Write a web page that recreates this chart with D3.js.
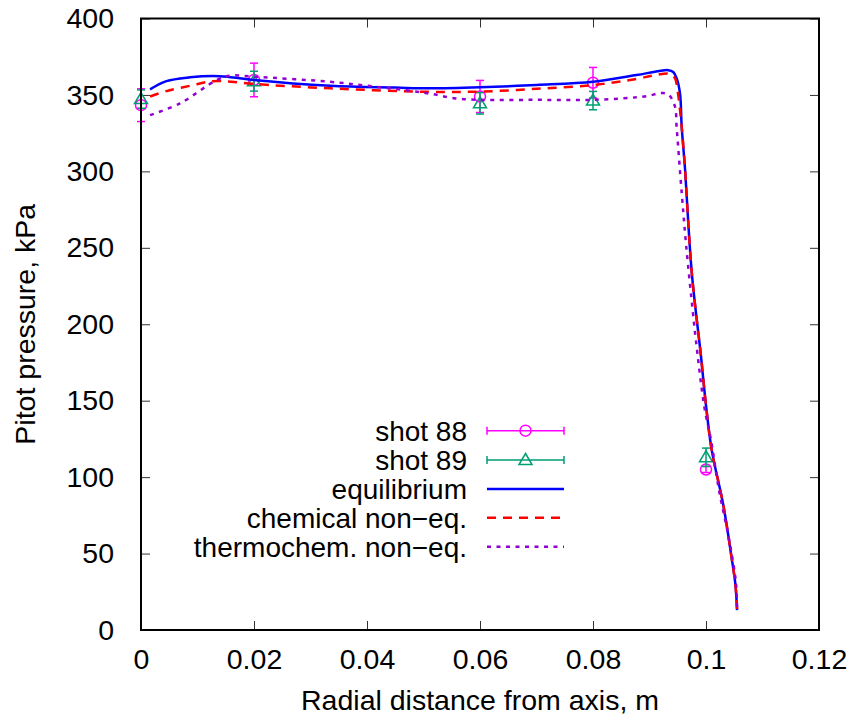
<!DOCTYPE html>
<html>
<head>
<meta charset="utf-8">
<script src="https://cdn.jsdelivr.net/npm/d3@7"></script>
<style>
  body { margin: 0; background: #fff; }
  text { font-family: "Liberation Sans", Arial, sans-serif; }
</style>
</head>
<body>
<div id="chart"></div>
<script>
(function(){
  //sets dimentions
  var W = 856, H = 723;
  var margin = {top: 18.5, left: 141, right: 37, bottom: 93},
  width = W - margin.left - margin.right,
  height = H - margin.top - margin.bottom;

  // measured points (x in m, pressure in kPa, error bar half-height)
  var shot88X = [0, 0.02, 0.06, 0.08, 0.1];
  var shot88Y = [343.3, 359.8, 349, 358, 105];
  var shot88Err = [10.7, 11, 10.5, 10, 2];

  var shot89X = [0, 0.02, 0.06, 0.08, 0.1];
  var shot89Y = [347.3, 359, 344.5, 346.3, 113];
  var shot89Err = [6, 6.5, 7, 6, 6];

  // simulated profiles
  var eqX = [0.0016, 0.0045, 0.0087, 0.0127, 0.0155, 0.02, 0.0335, 0.045, 0.0512, 0.06, 0.07, 0.08, 0.0877, 0.0915, 0.0933, 0.0942, 0.0948, 0.0954, 0.0957, 0.0963, 0.0969, 0.0975, 0.0983, 0.099, 0.1, 0.101, 0.1031, 0.1045, 0.1052, 0.1055];
  var eqY = [353.6, 359, 361.5, 362.4, 361.8, 359.8, 356, 354.8, 354.3, 355, 356.5, 358.6, 363, 365.5, 366.2, 365, 361, 351, 329, 301, 264, 233, 205, 183, 147, 118, 81, 48, 30, 13];

  var chemX = [0.0016, 0.0045, 0.0087, 0.0127, 0.016, 0.02, 0.0335, 0.0512, 0.06, 0.07, 0.08, 0.0877, 0.0907, 0.0936, 0.0945, 0.095, 0.0957, 0.0963, 0.0969, 0.0975, 0.0983, 0.099, 0.1, 0.101, 0.1031, 0.1045, 0.1052, 0.1055];
  var chemY = [349, 352.5, 356, 359, 358.6, 357.2, 354.3, 352, 352.2, 354, 356.5, 360.5, 362.7, 363.8, 361, 352, 329, 301, 264, 233, 205, 183, 147, 118, 81, 48, 30, 13];

  var thermoX = [0.0016, 0.0069, 0.0134, 0.0158, 0.02, 0.0335, 0.04, 0.047, 0.0512, 0.0553, 0.06, 0.07, 0.08, 0.0895, 0.0919, 0.0933, 0.0945, 0.0948, 0.0957, 0.0965, 0.0977, 0.0982, 0.0997, 0.1009, 0.1023, 0.1041, 0.1053, 0.1055];
  var thermoY = [336.8, 344.5, 359.7, 362.6, 361.9, 358.6, 356, 353, 350.8, 347.9, 346.8, 346.8, 346.8, 349.2, 351.2, 350.4, 342.5, 329, 286, 251, 207, 190, 146, 124, 91.5, 59, 31, 12];

  var xTicks = [0, 0.02, 0.04, 0.06, 0.08, 0.1, 0.12];
  var yTicks = [0, 50, 100, 150, 200, 250, 300, 350, 400];

  var labels = ["shot 88", "shot 89", "equilibrium", "chemical non\u2212eq.", "thermochem. non\u2212eq."];
  var colors = {
    shot88: "#ff00ff",
    shot89: "#009e73",
    eq: "#0000ff",
    chem: "#ff0000",
    thermo: "#9400d3"
  };

  var fontSize = 28.5, legFont = 28;

  var svg = d3.select("#chart").append("svg")
    .attr("width", W).attr("height", H);

  var x = d3.scaleLinear().domain([0, 0.12]).range([margin.left, margin.left + width]);
  var y = d3.scaleLinear().domain([0, 400]).range([margin.top + height, margin.top]);

  /////////////////////// AXES ///////////////////////
  var tickLen = 9;
  var fmtX = function(d){ return d === 0 ? "0" : String(+d.toFixed(2)); };

  // bottom + mirrored top ticks (inward)
  svg.append("g")
    .attr("transform", "translate(0," + (margin.top + height) + ")")
    .call(d3.axisBottom(x).tickValues(xTicks).tickFormat(fmtX).tickSizeInner(-tickLen).tickSizeOuter(0).tickPadding(19))
    .call(function(g){
      g.select(".domain").remove();
      g.selectAll("line").attr("stroke", "#333");
      g.selectAll("text").attr("font-size", fontSize).attr("fill", "#000").attr("dy", "0.71em");
    });
  svg.append("g")
    .attr("transform", "translate(0," + margin.top + ")")
    .call(d3.axisTop(x).tickValues(xTicks).tickFormat("").tickSizeInner(-tickLen).tickSizeOuter(0))
    .call(function(g){ g.select(".domain").remove(); g.selectAll("line").attr("stroke", "#333"); });

  // left + mirrored right ticks
  svg.append("g")
    .attr("transform", "translate(" + margin.left + ",0)")
    .call(d3.axisLeft(y).tickValues(yTicks).tickSizeInner(-tickLen).tickSizeOuter(0).tickPadding(27))
    .call(function(g){
      g.select(".domain").remove();
      g.selectAll("line").attr("stroke", "#333");
      g.selectAll("text").attr("font-size", fontSize).attr("fill", "#000");
    });
  svg.append("g")
    .attr("transform", "translate(" + (margin.left + width) + ",0)")
    .call(d3.axisRight(y).tickValues(yTicks).tickFormat("").tickSizeInner(-tickLen).tickSizeOuter(0))
    .call(function(g){ g.select(".domain").remove(); g.selectAll("line").attr("stroke", "#333"); });

  // axis titles
  svg.append("text")
    .attr("x", margin.left + width / 2).attr("y", 710)
    .attr("text-anchor", "middle").attr("font-size", fontSize)
    .text("Radial distance from axis, m");
  svg.append("text")
    .attr("transform", "translate(35," + (margin.top + height / 2) + ") rotate(-90)")
    .attr("text-anchor", "middle").attr("font-size", fontSize)
    .text("Pitot pressure, kPa");

  /////////////////////// DATA ///////////////////////
  var cap = 4;
  function errorSeries(xs, ys, es, col, shape){
    var g = svg.append("g").attr("stroke", col).attr("stroke-width", 1.5).attr("fill", "none");
    for (var i = 0; i < xs.length; i++) {
      var px = x(xs[i]), top = y(ys[i] + es[i]), bot = y(ys[i] - es[i]);
      g.append("line").attr("x1", px).attr("x2", px).attr("y1", top).attr("y2", bot);
      g.append("line").attr("x1", px - cap).attr("x2", px + cap).attr("y1", top).attr("y2", top);
      g.append("line").attr("x1", px - cap).attr("x2", px + cap).attr("y1", bot).attr("y2", bot);
      drawMarker(g, px, y(ys[i]), shape);
    }
  }
  function drawMarker(g, px, py, shape){
    if (shape == "circle") {
      g.append("circle").attr("cx", px).attr("cy", py).attr("r", 5.5);
    } else {
      g.append("path").attr("d", "M" + px + "," + (py - 6.5) + "L" + (px + 6.5) + "," + (py + 4.5) + "L" + (px - 6.5) + "," + (py + 4.5) + "Z");
    }
  }

  errorSeries(shot88X, shot88Y, shot88Err, colors.shot88, "circle");
  errorSeries(shot89X, shot89Y, shot89Err, colors.shot89, "triangle");

  var line = d3.line().x(function(d){ return x(d[0]); }).y(function(d){ return y(d[1]); }).curve(d3.curveCatmullRom.alpha(0.5));
  function zip(a, b){ return a.map(function(v, i){ return [v, b[i]]; }); }

  svg.append("path").datum(zip(eqX, eqY)).attr("d", line)
    .attr("fill", "none").attr("stroke", colors.eq).attr("stroke-width", 2.5);
  svg.append("path").datum(zip(chemX, chemY)).attr("d", line)
    .attr("fill", "none").attr("stroke", colors.chem).attr("stroke-width", 2.5).attr("stroke-dasharray", "9,7");
  svg.append("path").datum(zip(thermoX, thermoY)).attr("d", line)
    .attr("fill", "none").attr("stroke", colors.thermo).attr("stroke-width", 2.5).attr("stroke-dasharray", "4,5.5");

  /////////////////////// LEGEND ///////////////////////
  var legY = [430.7, 460, 489, 517.7, 546.7];
  var lx0 = 487, lx1 = 564, ltext = 467;
  var leg = svg.append("g");
  labels.forEach(function(l, i){
    leg.append("text").attr("x", ltext).attr("y", legY[i]).attr("dy", "0.35em")
      .attr("text-anchor", "end").attr("font-size", legFont).text(l);
  });
  [[colors.shot88, "circle"], [colors.shot89, "triangle"]].forEach(function(s, i){
    var g = leg.append("g").attr("stroke", s[0]).attr("stroke-width", 1.5).attr("fill", "none");
    var yy = legY[i];
    g.append("line").attr("x1", lx0).attr("x2", lx1).attr("y1", yy).attr("y2", yy);
    g.append("line").attr("x1", lx0).attr("x2", lx0).attr("y1", yy - cap).attr("y2", yy + cap);
    g.append("line").attr("x1", lx1).attr("x2", lx1).attr("y1", yy - cap).attr("y2", yy + cap);
    drawMarker(g, (lx0 + lx1) / 2, yy, s[1]);
  });
  leg.append("line").attr("x1", lx0).attr("x2", lx1).attr("y1", legY[2]).attr("y2", legY[2])
    .attr("stroke", colors.eq).attr("stroke-width", 2.5);
  leg.append("line").attr("x1", lx0).attr("x2", lx1).attr("y1", legY[3]).attr("y2", legY[3])
    .attr("stroke", colors.chem).attr("stroke-width", 2.5).attr("stroke-dasharray", "9,7");
  leg.append("line").attr("x1", lx0).attr("x2", lx1).attr("y1", legY[4]).attr("y2", legY[4])
    .attr("stroke", colors.thermo).attr("stroke-width", 2.5).attr("stroke-dasharray", "4,5.5");

  // frame
  svg.append("rect")
    .attr("x", margin.left).attr("y", margin.top).attr("width", width).attr("height", height)
    .attr("fill", "none").attr("stroke", "#000").attr("stroke-width", 2);
})();
</script>
</body>
</html>
